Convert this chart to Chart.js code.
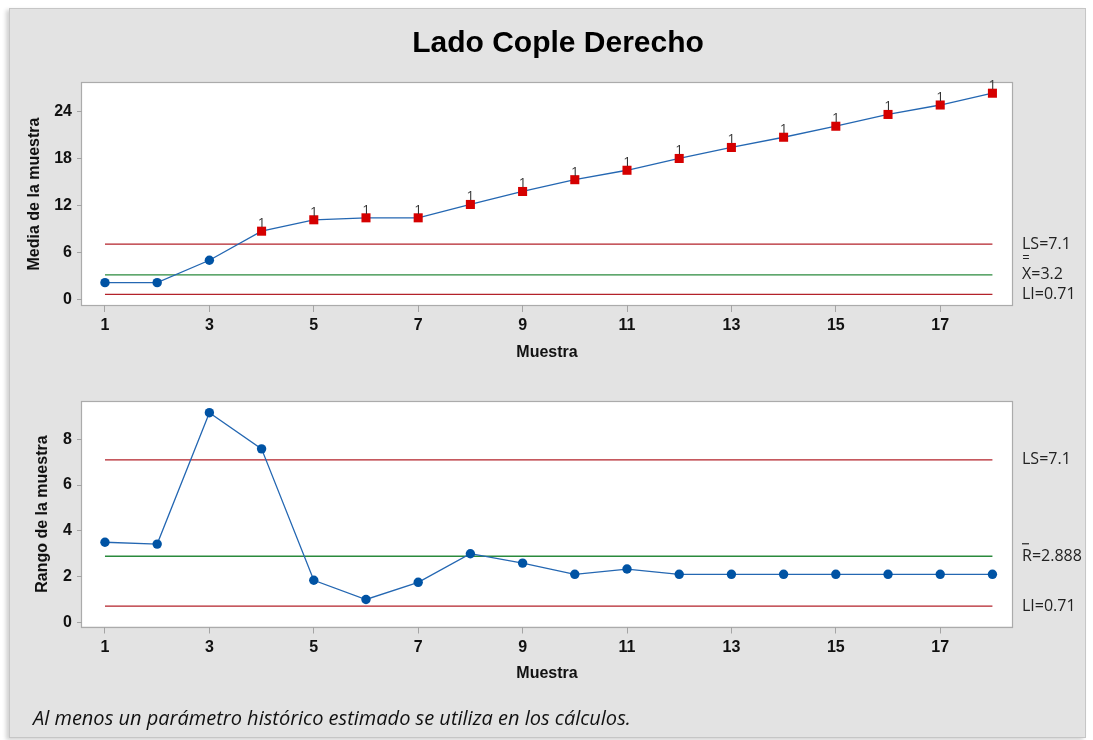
<!DOCTYPE html>
<html>
<head>
<meta charset="utf-8">
<title>Lado Cople Derecho</title>
<script src="https://cdn.jsdelivr.net/npm/chart.js@4.4.1/dist/chart.umd.min.js"></script>
<style>
  html, body { margin: 0; padding: 0; background: #ffffff; width: 1093px; height: 740px; overflow: hidden; }
  #marco {
    position: absolute; left: 9px; top: 8px; width: 1075px; height: 728px;
    background: #e3e3e3; border: 1px solid #c6c6c6;
    box-shadow: -3px 2px 4px rgba(0,0,0,0.18);
  }
  canvas { position: absolute; left: 0; top: 0; }
</style>
</head>
<body>
<div id="marco"></div>
<canvas id="graficaMedia" width="1093" height="740"></canvas>
<canvas id="graficaRango" width="1093" height="740"></canvas>
<script>
// Subgroup numbers and statistics
const muestras = [1, 2, 3, 4, 5, 6, 7, 8, 9, 10, 11, 12, 13, 14, 15, 16, 17, 18];
const mediaMuestra = [2.2, 2.2, 5.05, 8.75, 10.2, 10.45, 10.45, 12.15, 13.8, 15.3, 16.5, 18.0, 19.4, 20.7, 22.1, 23.6, 24.8, 26.3];
const rangoMuestra = [3.5, 3.42, 9.16, 7.58, 1.84, 1.0, 1.75, 3.0, 2.59, 2.1, 2.33, 2.1, 2.1, 2.1, 2.1, 2.1, 2.1, 2.1];

// Axis tick values
const ticksMuestra = [1, 3, 5, 7, 9, 11, 13, 15, 17];
const ticksMedia = [0, 6, 12, 18, 24];
const ticksRango = [0, 2, 4, 6, 8];

// Control limits
const LS_MEDIA = 7.1, LC_MEDIA = 3.2, LI_MEDIA = 0.71;
const LS_RANGO = 7.1, LC_RANGO = 2.888, LI_RANGO = 0.71;

const TITULO = 'Lado Cople Derecho';
const NOTA = 'Al menos un parámetro histórico estimado se utiliza en los cálculos.';

const COLOR_SERIE = '#2467b2';
const COLOR_PUNTO = '#0053a4';
const COLOR_FUERA = '#d50000';
const COLOR_LIMITE = '#b3222a';
const COLOR_CENTRO = '#2a8a3c';
const FUENTE_EJES = '"Liberation Sans", Arial, sans-serif';
const FUENTE_TEXTO = '"Open Sans", "Noto Sans", sans-serif';

// Points outside the limits of the means chart get test mark "1"
const fueraMedia = mediaMuestra.map(v => v > LS_MEDIA || v < LI_MEDIA);

function puntos(valores) {
  return muestras.map((m, i) => ({ x: m, y: valores[i] }));
}
function recta(valor) {
  return [{ x: muestras[0], y: valor }, { x: muestras[muestras.length - 1], y: valor }];
}
function lineaLimite(valor, color) {
  return { data: recta(valor), borderColor: color, borderWidth: 1.3, pointRadius: 0, tension: 0, fill: false };
}
function serie(valores, marcas) {
  return {
    data: puntos(valores),
    borderColor: COLOR_SERIE,
    borderWidth: 1.3,
    tension: 0,
    fill: false,
    pointStyle: valores.map((v, i) => marcas && marcas[i] ? 'rect' : 'circle'),
    pointRadius: valores.map((v, i) => marcas && marcas[i] ? 6.4 : 4.7),
    pointBackgroundColor: valores.map((v, i) => marcas && marcas[i] ? COLOR_FUERA : COLOR_PUNTO),
    pointBorderColor: valores.map((v, i) => marcas && marcas[i] ? COLOR_FUERA : COLOR_PUNTO),
    pointBorderWidth: 0
  };
}

function escalas(yTicks, yMin, yMax, yTitulo, anchoY, altoX) {
  const fuenteTick = { family: FUENTE_EJES, weight: 'bold', size: 16 };
  const fuenteTitulo = { family: FUENTE_EJES, weight: 'bold', size: 16 };
  return {
    x: {
      type: 'linear', min: 0.56, max: 18.375,
      afterBuildTicks: s => { s.ticks = ticksMuestra.map(v => ({ value: v })); },
      afterFit: s => { s.height = altoX; },
      grid: { drawOnChartArea: false, drawTicks: true, tickLength: 7, tickColor: '#a4a4a4' },
      border: { display: false },
      ticks: { font: fuenteTick, color: '#111', padding: 4, maxRotation: 0, autoSkip: false },
      title: { display: true, text: 'Muestra', font: fuenteTitulo, color: '#111', padding: { top: 0, bottom: 0 } }
    },
    y: {
      type: 'linear', min: yMin, max: yMax,
      afterBuildTicks: s => { s.ticks = yTicks.map(v => ({ value: v })); },
      afterFit: s => { s.width = anchoY; },
      grid: { drawOnChartArea: false, drawTicks: true, tickLength: 5, tickColor: '#a4a4a4' },
      border: { display: false },
      ticks: { font: fuenteTick, color: '#111', padding: 5 },
      title: { display: true, text: yTitulo, font: fuenteTitulo, color: '#111', padding: { top: 0, bottom: 0 } }
    }
  };
}

// White plot area with grey frame
const areaGrafica = {
  id: 'areaGrafica',
  beforeDraw(chart) {
    const { ctx, chartArea: a } = chart;
    ctx.save();
    ctx.fillStyle = '#ffffff';
    ctx.fillRect(a.left, a.top, a.width, a.height);
    ctx.strokeStyle = '#ababab';
    ctx.lineWidth = 1.2;
    ctx.strokeRect(Math.round(a.left) - 0.5, Math.round(a.top) - 0.5, Math.round(a.width) + 1, Math.round(a.height) + 1);
    ctx.restore();
  }
};

// Limit labels at the right of each chart
const etiquetasLimite = {
  id: 'etiquetasLimite',
  afterDraw(chart, args, opts) {
    const ctx = chart.ctx, y = chart.scales.y;
    ctx.save();
    ctx.fillStyle = '#222';
    ctx.strokeStyle = '#222';
    opts.items.forEach(it => {
      const py = y.getPixelForValue(it.valor);
      ctx.font = '16px ' + FUENTE_TEXTO;
      ctx.textAlign = 'left';
      ctx.textBaseline = 'middle';
      ctx.fillText(it.texto, opts.x, py);
      if (it.barra === 2) {
        ctx.font = '13px ' + FUENTE_TEXTO;
        ctx.textAlign = 'center';
        ctx.fillText('=', opts.x + 4, py - 16.5);
      } else if (it.barra === 1) {
        ctx.lineWidth = 1.2;
        ctx.beginPath();
        ctx.moveTo(opts.x, py - 12.5);
        ctx.lineTo(opts.x + 7, py - 12.5);
        ctx.stroke();
      }
    });
    ctx.restore();
  }
};

// Test number above flagged points
const marcasPrueba = {
  id: 'marcasPrueba',
  afterDatasetsDraw(chart, args, opts) {
    if (!opts.marcas) return;
    const ctx = chart.ctx;
    const meta = chart.getDatasetMeta(0);
    ctx.save();
    ctx.font = '13.5px ' + FUENTE_TEXTO;
    ctx.fillStyle = '#333';
    ctx.textAlign = 'center';
    ctx.textBaseline = 'alphabetic';
    meta.data.forEach((p, i) => {
      if (opts.marcas[i]) ctx.fillText('1', p.x, p.y - 4);
    });
    ctx.restore();
  }
};

// Chart title and footnote
const textosHoja = {
  id: 'textosHoja',
  afterDraw(chart) {
    const ctx = chart.ctx;
    ctx.save();
    ctx.fillStyle = '#000';
    ctx.textAlign = 'center';
    ctx.textBaseline = 'alphabetic';
    ctx.font = 'bold 30px ' + FUENTE_EJES;
    ctx.fillText(TITULO, 558, 52);
    ctx.textAlign = 'left';
    ctx.fillStyle = '#111';
    ctx.font = 'italic 20px ' + FUENTE_TEXTO;
    ctx.fillText(NOTA, 33, 725);
    ctx.restore();
  }
};

const comun = {
  responsive: false,
  animation: false,
  devicePixelRatio: 1,
  events: []
};

new Chart(document.getElementById('graficaMedia'), {
  type: 'line',
  data: {
    datasets: [
      serie(mediaMuestra, fueraMedia),
      lineaLimite(LS_MEDIA, COLOR_LIMITE),
      lineaLimite(LC_MEDIA, COLOR_CENTRO),
      lineaLimite(LI_MEDIA, COLOR_LIMITE)
    ]
  },
  options: Object.assign({}, comun, {
    layout: { padding: { left: 25.4, top: 83, right: 81, bottom: 377.4 } },
    scales: escalas(ticksMedia, -0.64, 27.6, 'Media de la muestra', 56.6, 57.6),
    plugins: {
      legend: { display: false },
      tooltip: { enabled: false },
      etiquetasLimite: {
        x: 1022,
        items: [
          { valor: LS_MEDIA, texto: 'LS=' + LS_MEDIA, barra: 0 },
          { valor: LC_MEDIA, texto: 'X=' + LC_MEDIA, barra: 2 },
          { valor: LI_MEDIA, texto: 'LI=' + LI_MEDIA, barra: 0 }
        ]
      },
      marcasPrueba: { marcas: fueraMedia }
    }
  }),
  plugins: [areaGrafica, etiquetasLimite, marcasPrueba, textosHoja]
});

new Chart(document.getElementById('graficaRango'), {
  type: 'line',
  data: {
    datasets: [
      serie(rangoMuestra, null),
      lineaLimite(LS_RANGO, COLOR_LIMITE),
      lineaLimite(LC_RANGO, COLOR_CENTRO),
      lineaLimite(LI_RANGO, COLOR_LIMITE)
    ]
  },
  options: Object.assign({}, comun, {
    layout: { padding: { left: 33.4, top: 401.7, right: 81, bottom: 56.9 } },
    scales: escalas(ticksRango, -0.18, 9.64, 'Rango de la muestra', 48.6, 56.6),
    plugins: {
      legend: { display: false },
      tooltip: { enabled: false },
      etiquetasLimite: {
        x: 1022,
        items: [
          { valor: LS_RANGO, texto: 'LS=' + LS_RANGO, barra: 0 },
          { valor: LC_RANGO, texto: 'R=' + LC_RANGO, barra: 1 },
          { valor: LI_RANGO, texto: 'LI=' + LI_RANGO, barra: 0 }
        ]
      },
      marcasPrueba: { marcas: null }
    }
  }),
  plugins: [areaGrafica, etiquetasLimite, marcasPrueba]
});
</script>
</body>
</html>
